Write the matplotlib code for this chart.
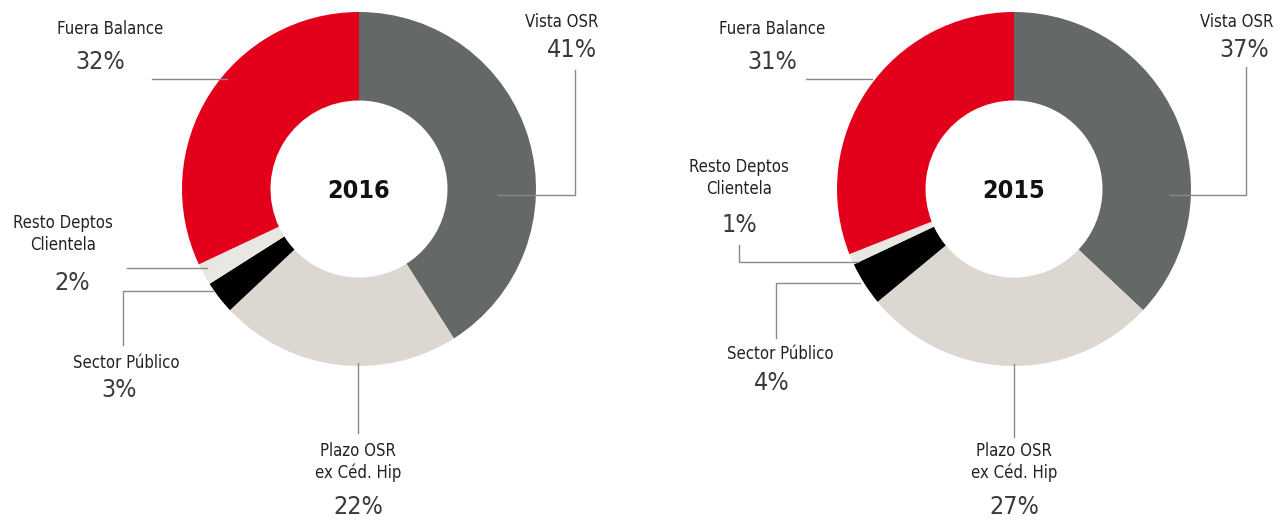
import matplotlib
matplotlib.use("Agg")
import matplotlib.pyplot as plt

# data
categories = ["Vista OSR", "Plazo OSR\nex Céd. Hip", "Sector Público", "Resto Deptos\nClientela", "Fuera Balance"]
values_2016 = [41, 22, 3, 2, 32]
values_2015 = [37, 27, 4, 1, 31]
years = ["2016", "2015"]
colors = ["#646867", "#dcd7d1", "#000000", "#e9e7e3", "#e2001a"]

plt.rcParams['font.family'] = ['DejaVu Sans']
W, H = 1283, 524

fig = plt.figure(figsize=(W / 100, H / 100), dpi=100)
ax = fig.add_axes([0, 0, 1, 1])
ax.set_xlim(0, W)
ax.set_ylim(0, H)
ax.set_aspect("equal")
ax.axis("off")

def Y(y):
    # image rows -> data y
    return H - y

# layout for each chart: center, radius, label anchors, leader lines (image pixel coords)
layouts = [
    dict(cx=359, cy=189, r=177,
         name_pos=[(598, 22, "right"), (358, 462, "center"), (126, 363, "center"), (63, 234, "center"), (110, 29, "center")],
         pct_pos=[(572, 50), (358, 507), (119, 390), (72, 283), (100, 62)],
         leaders=[[(498, 195), (575, 195), (575, 70)],
                  [(358, 363), (358, 433)],
                  [(213, 291), (123, 291), (123, 345)],
                  [(207, 268), (127, 268)],
                  [(227, 79), (152, 79)]]),
    dict(cx=1014, cy=189, r=177,
         name_pos=[(1273, 22, "right"), (1014, 462, "center"), (780, 354, "center"), (739, 178, "center"), (772, 29, "center")],
         pct_pos=[(1244, 50), (1014, 507), (772, 383), (739, 225), (772, 62)],
         leaders=[[(1170, 195), (1246, 195), (1246, 67)],
                  [(1014, 364), (1014, 437)],
                  [(860, 283), (776, 283), (776, 338)],
                  [(858, 262), (739, 262), (739, 245)],
                  [(872, 79), (806, 79)]]),
]

for year, vals, lay in zip(years, [values_2016, values_2015], layouts):
    ax.pie(vals, colors=colors, startangle=90, counterclock=False,
           center=(lay["cx"], Y(lay["cy"])), radius=lay["r"],
           wedgeprops=dict(width=lay["r"] * 0.5, linewidth=0), frame=True)
    ax.text(lay["cx"], Y(lay["cy"] + 2), year, ha="center", va="center",
            fontsize=18, fontweight="bold", fontstretch="condensed", color="#111111")
    for name, v, (nx, ny, ha), (px, py), line in zip(categories, vals, lay["name_pos"],
                                                     lay["pct_pos"], lay["leaders"]):
        ax.text(nx, Y(ny), name, ha=ha, va="center", fontsize=12,
                fontstretch="condensed", color="#222222", linespacing=1.3)
        ax.text(px, Y(py), f"{v}%", ha="center", va="center", fontsize=18,
                fontstretch="condensed", color="#3a3a3a")
        xs = [p[0] for p in line]
        ys = [Y(p[1]) for p in line]
        ax.plot(xs, ys, color="#8a8a8a", linewidth=1)

ax.set_xlim(0, W)
ax.set_ylim(0, H)
ax.axis("off")
fig.savefig("out.png", dpi=100, facecolor="white")
